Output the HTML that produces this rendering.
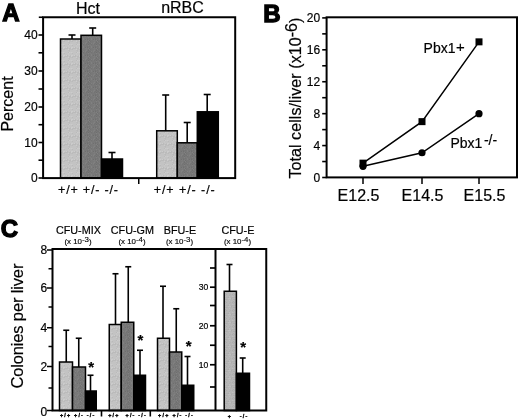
<!DOCTYPE html>
<html lang="en">
<head>
<meta charset="utf-8">
<title>Figure</title>
<style>
html,body{margin:0;padding:0;background:#fff;}
body{width:520px;height:419px;overflow:hidden;}
svg{display:block;font-family:"Liberation Sans", Arial, Helvetica, sans-serif;fill:#000000;}
svg text:not([stroke-width]){stroke:#000;stroke-width:0.2px;}
</style>
</head>
<body>
<svg width="520" height="419" viewBox="0 0 520 419">
<rect x="0" y="0" width="520" height="419" fill="#ffffff" stroke="none"/>
<defs>
<pattern id="pl" width="8" height="8" patternUnits="userSpaceOnUse">
<rect width="8" height="8" fill="#c3c3c3"/>
<rect x="0" y="0" width="1" height="1" fill="#bebebe"/>
<rect x="1" y="0" width="1" height="1" fill="#bababa"/>
<rect x="2" y="0" width="1" height="1" fill="#bababa"/>
<rect x="3" y="0" width="1" height="1" fill="#bababa"/>
<rect x="5" y="0" width="1" height="1" fill="#bababa"/>
<rect x="6" y="0" width="1" height="1" fill="#bababa"/>
<rect x="7" y="0" width="1" height="1" fill="#cccccc"/>
<rect x="0" y="1" width="1" height="1" fill="#bababa"/>
<rect x="4" y="1" width="1" height="1" fill="#cccccc"/>
<rect x="5" y="1" width="1" height="1" fill="#bebebe"/>
<rect x="6" y="1" width="1" height="1" fill="#bebebe"/>
<rect x="7" y="1" width="1" height="1" fill="#bebebe"/>
<rect x="4" y="2" width="1" height="1" fill="#bebebe"/>
<rect x="5" y="2" width="1" height="1" fill="#bababa"/>
<rect x="5" y="3" width="1" height="1" fill="#bebebe"/>
<rect x="0" y="4" width="1" height="1" fill="#c7c7c7"/>
<rect x="4" y="4" width="1" height="1" fill="#bababa"/>
<rect x="5" y="4" width="1" height="1" fill="#cccccc"/>
<rect x="6" y="4" width="1" height="1" fill="#c7c7c7"/>
<rect x="7" y="4" width="1" height="1" fill="#cccccc"/>
<rect x="0" y="5" width="1" height="1" fill="#bababa"/>
<rect x="4" y="5" width="1" height="1" fill="#c7c7c7"/>
<rect x="4" y="6" width="1" height="1" fill="#c7c7c7"/>
<rect x="0" y="7" width="1" height="1" fill="#cccccc"/>
<rect x="2" y="7" width="1" height="1" fill="#cccccc"/>
<rect x="3" y="7" width="1" height="1" fill="#bababa"/>
<rect x="5" y="7" width="1" height="1" fill="#c7c7c7"/>
<rect x="6" y="7" width="1" height="1" fill="#bebebe"/>
<rect x="7" y="7" width="1" height="1" fill="#cccccc"/>
</pattern>
<pattern id="pm" width="8" height="8" patternUnits="userSpaceOnUse">
<rect width="8" height="8" fill="#b5b5b5"/>
<rect x="0" y="0" width="1" height="1" fill="#bebebe"/>
<rect x="1" y="0" width="1" height="1" fill="#b9b9b9"/>
<rect x="5" y="0" width="1" height="1" fill="#bebebe"/>
<rect x="0" y="1" width="1" height="1" fill="#b0b0b0"/>
<rect x="1" y="1" width="1" height="1" fill="#b0b0b0"/>
<rect x="2" y="1" width="1" height="1" fill="#b0b0b0"/>
<rect x="3" y="1" width="1" height="1" fill="#b0b0b0"/>
<rect x="4" y="1" width="1" height="1" fill="#acacac"/>
<rect x="5" y="1" width="1" height="1" fill="#b9b9b9"/>
<rect x="7" y="1" width="1" height="1" fill="#b0b0b0"/>
<rect x="4" y="2" width="1" height="1" fill="#bebebe"/>
<rect x="5" y="2" width="1" height="1" fill="#bebebe"/>
<rect x="6" y="2" width="1" height="1" fill="#bebebe"/>
<rect x="7" y="2" width="1" height="1" fill="#acacac"/>
<rect x="1" y="3" width="1" height="1" fill="#acacac"/>
<rect x="2" y="3" width="1" height="1" fill="#acacac"/>
<rect x="3" y="3" width="1" height="1" fill="#b0b0b0"/>
<rect x="7" y="3" width="1" height="1" fill="#b0b0b0"/>
<rect x="1" y="4" width="1" height="1" fill="#b9b9b9"/>
<rect x="5" y="4" width="1" height="1" fill="#bebebe"/>
<rect x="1" y="5" width="1" height="1" fill="#acacac"/>
<rect x="7" y="5" width="1" height="1" fill="#b9b9b9"/>
<rect x="0" y="6" width="1" height="1" fill="#acacac"/>
<rect x="2" y="6" width="1" height="1" fill="#acacac"/>
<rect x="4" y="6" width="1" height="1" fill="#b9b9b9"/>
<rect x="6" y="6" width="1" height="1" fill="#b0b0b0"/>
<rect x="1" y="7" width="1" height="1" fill="#b0b0b0"/>
<rect x="5" y="7" width="1" height="1" fill="#b0b0b0"/>
</pattern>
<pattern id="pd" width="8" height="8" patternUnits="userSpaceOnUse">
<rect width="8" height="8" fill="#787878"/>
<rect x="0" y="0" width="1" height="1" fill="#818181"/>
<rect x="1" y="0" width="1" height="1" fill="#6f6f6f"/>
<rect x="5" y="0" width="1" height="1" fill="#7c7c7c"/>
<rect x="6" y="0" width="1" height="1" fill="#7c7c7c"/>
<rect x="0" y="1" width="1" height="1" fill="#737373"/>
<rect x="1" y="1" width="1" height="1" fill="#818181"/>
<rect x="2" y="1" width="1" height="1" fill="#737373"/>
<rect x="6" y="1" width="1" height="1" fill="#7c7c7c"/>
<rect x="0" y="2" width="1" height="1" fill="#6f6f6f"/>
<rect x="5" y="2" width="1" height="1" fill="#7c7c7c"/>
<rect x="6" y="2" width="1" height="1" fill="#818181"/>
<rect x="1" y="3" width="1" height="1" fill="#737373"/>
<rect x="2" y="3" width="1" height="1" fill="#737373"/>
<rect x="3" y="3" width="1" height="1" fill="#818181"/>
<rect x="5" y="3" width="1" height="1" fill="#818181"/>
<rect x="7" y="3" width="1" height="1" fill="#737373"/>
<rect x="0" y="4" width="1" height="1" fill="#6f6f6f"/>
<rect x="3" y="4" width="1" height="1" fill="#737373"/>
<rect x="5" y="4" width="1" height="1" fill="#7c7c7c"/>
<rect x="6" y="4" width="1" height="1" fill="#737373"/>
<rect x="0" y="5" width="1" height="1" fill="#818181"/>
<rect x="2" y="5" width="1" height="1" fill="#7c7c7c"/>
<rect x="1" y="6" width="1" height="1" fill="#737373"/>
<rect x="3" y="6" width="1" height="1" fill="#818181"/>
<rect x="7" y="6" width="1" height="1" fill="#737373"/>
<rect x="3" y="7" width="1" height="1" fill="#818181"/>
<rect x="5" y="7" width="1" height="1" fill="#6f6f6f"/>
<rect x="6" y="7" width="1" height="1" fill="#7c7c7c"/>
<rect x="7" y="7" width="1" height="1" fill="#6f6f6f"/>
</pattern>
</defs>
<g opacity="0.999">
<text x="2.2" y="21" font-size="24" text-anchor="start" font-weight="bold" stroke="#000" stroke-width="1.3" stroke-linejoin="miter">A</text>
<text x="88" y="13.5" font-size="16" text-anchor="middle" font-weight="normal" >Hct</text>
<text x="182.5" y="13" font-size="16" text-anchor="middle" font-weight="normal" >nRBC</text>
<line x1="72" y1="35" x2="72" y2="39" stroke="#000000" stroke-width="1.6"/>
<line x1="68.5" y1="35" x2="75.5" y2="35" stroke="#000000" stroke-width="1.6"/>
<rect x="60.5" y="39" width="20.5" height="139.1" fill="url(#pl)" stroke="#000000" stroke-width="1.5"/>
<line x1="92.7" y1="28" x2="92.7" y2="35.3" stroke="#000000" stroke-width="1.6"/>
<line x1="89.2" y1="28" x2="96.2" y2="28" stroke="#000000" stroke-width="1.6"/>
<rect x="81" y="35.3" width="20.5" height="142.8" fill="url(#pd)" stroke="#000000" stroke-width="1.5"/>
<line x1="112" y1="152.5" x2="112" y2="159" stroke="#000000" stroke-width="1.6"/>
<line x1="108.5" y1="152.5" x2="115.5" y2="152.5" stroke="#000000" stroke-width="1.6"/>
<rect x="101.5" y="159" width="21.0" height="19.099999999999994" fill="#000000" stroke="#000000" stroke-width="1.5"/>
<line x1="165.7" y1="95" x2="165.7" y2="130.8" stroke="#000000" stroke-width="1.6"/>
<line x1="162.2" y1="95" x2="169.2" y2="95" stroke="#000000" stroke-width="1.6"/>
<rect x="156.7" y="130.8" width="20.600000000000023" height="47.29999999999998" fill="url(#pl)" stroke="#000000" stroke-width="1.5"/>
<line x1="187.2" y1="122.5" x2="187.2" y2="142.8" stroke="#000000" stroke-width="1.6"/>
<line x1="183.7" y1="122.5" x2="190.7" y2="122.5" stroke="#000000" stroke-width="1.6"/>
<rect x="177.3" y="142.8" width="20.0" height="35.29999999999998" fill="url(#pd)" stroke="#000000" stroke-width="1.5"/>
<line x1="207.2" y1="94.5" x2="207.2" y2="111.8" stroke="#000000" stroke-width="1.6"/>
<line x1="203.7" y1="94.5" x2="210.7" y2="94.5" stroke="#000000" stroke-width="1.6"/>
<rect x="197.3" y="111.8" width="21.0" height="66.3" fill="#000000" stroke="#000000" stroke-width="1.5"/>
<rect x="43.1" y="17.25" width="192.1" height="160.85" fill="none" stroke="#000000" stroke-width="2"/>
<line x1="38.5" y1="35" x2="43.1" y2="35" stroke="#000000" stroke-width="1.6"/>
<text x="37.7" y="39.3" font-size="12" text-anchor="end" font-weight="normal" >40</text>
<line x1="38.5" y1="71" x2="43.1" y2="71" stroke="#000000" stroke-width="1.6"/>
<text x="37.7" y="75.3" font-size="12" text-anchor="end" font-weight="normal" >30</text>
<line x1="38.5" y1="107" x2="43.1" y2="107" stroke="#000000" stroke-width="1.6"/>
<text x="37.7" y="111.3" font-size="12" text-anchor="end" font-weight="normal" >20</text>
<line x1="38.5" y1="142.5" x2="43.1" y2="142.5" stroke="#000000" stroke-width="1.6"/>
<text x="37.7" y="146.8" font-size="12" text-anchor="end" font-weight="normal" >10</text>
<line x1="38.5" y1="178" x2="43.1" y2="178" stroke="#000000" stroke-width="1.6"/>
<text x="37.7" y="182.3" font-size="12" text-anchor="end" font-weight="normal" >0</text>
<line x1="38.5" y1="52.8" x2="43.1" y2="52.8" stroke="#000000" stroke-width="1.6"/>
<line x1="38.5" y1="89" x2="43.1" y2="89" stroke="#000000" stroke-width="1.6"/>
<line x1="38.5" y1="124.7" x2="43.1" y2="124.7" stroke="#000000" stroke-width="1.6"/>
<line x1="38.5" y1="160.2" x2="43.1" y2="160.2" stroke="#000000" stroke-width="1.6"/>
<line x1="138.75" y1="178" x2="138.75" y2="184" stroke="#000000" stroke-width="1.5"/>
<line x1="38.8" y1="17.25" x2="43.1" y2="17.25" stroke="#000000" stroke-width="1.6"/>
<text x="58" y="194" font-size="12.5" text-anchor="start" font-weight="normal" textLength="60" lengthAdjust="spacing">+/+ +/- -/-</text>
<text x="153.75" y="194" font-size="12.5" text-anchor="start" font-weight="normal" textLength="61" lengthAdjust="spacing">+/+ +/- -/-</text>
<text x="0" y="0" font-size="16" text-anchor="middle" font-weight="normal" transform="translate(13.2,104) rotate(-90)">Percent</text>
<text x="263.2" y="21.8" font-size="24" text-anchor="start" font-weight="bold" stroke="#000" stroke-width="1.3" stroke-linejoin="miter">B</text>
<rect x="326.6" y="17.3" width="190.39999999999998" height="160.1" fill="none" stroke="#000000" stroke-width="2"/>
<line x1="322.2" y1="177.5" x2="326.6" y2="177.5" stroke="#000000" stroke-width="1.6"/>
<text x="320.2" y="181.8" font-size="12" text-anchor="end" font-weight="normal" >0</text>
<line x1="322.2" y1="145.57999999999998" x2="326.6" y2="145.57999999999998" stroke="#000000" stroke-width="1.6"/>
<text x="320.2" y="149.88" font-size="12" text-anchor="end" font-weight="normal" >4</text>
<line x1="322.2" y1="113.66" x2="326.6" y2="113.66" stroke="#000000" stroke-width="1.6"/>
<text x="320.2" y="117.96" font-size="12" text-anchor="end" font-weight="normal" >8</text>
<line x1="322.2" y1="81.74" x2="326.6" y2="81.74" stroke="#000000" stroke-width="1.6"/>
<text x="320.2" y="86.03999999999999" font-size="12" text-anchor="end" font-weight="normal" >12</text>
<line x1="322.2" y1="49.81999999999999" x2="326.6" y2="49.81999999999999" stroke="#000000" stroke-width="1.6"/>
<text x="320.2" y="54.11999999999999" font-size="12" text-anchor="end" font-weight="normal" >16</text>
<line x1="322.2" y1="17.899999999999977" x2="326.6" y2="17.899999999999977" stroke="#000000" stroke-width="1.6"/>
<text x="320.2" y="22.199999999999978" font-size="12" text-anchor="end" font-weight="normal" >20</text>
<line x1="322.2" y1="161.54" x2="326.6" y2="161.54" stroke="#000000" stroke-width="1.6"/>
<line x1="322.2" y1="129.62" x2="326.6" y2="129.62" stroke="#000000" stroke-width="1.6"/>
<line x1="322.2" y1="97.69999999999999" x2="326.6" y2="97.69999999999999" stroke="#000000" stroke-width="1.6"/>
<line x1="322.2" y1="65.78" x2="326.6" y2="65.78" stroke="#000000" stroke-width="1.6"/>
<line x1="322.2" y1="33.859999999999985" x2="326.6" y2="33.859999999999985" stroke="#000000" stroke-width="1.6"/>
<line x1="363" y1="178" x2="363" y2="184" stroke="#000000" stroke-width="1.5"/>
<text x="358.5" y="201.4" font-size="16" text-anchor="middle" font-weight="normal" >E12.5</text>
<line x1="422" y1="178" x2="422" y2="184" stroke="#000000" stroke-width="1.5"/>
<text x="422.5" y="201.4" font-size="16" text-anchor="middle" font-weight="normal" >E14.5</text>
<line x1="479" y1="178" x2="479" y2="184" stroke="#000000" stroke-width="1.5"/>
<text x="484.5" y="201.4" font-size="16" text-anchor="middle" font-weight="normal" >E15.5</text>
<polyline fill="none" stroke="#000000" stroke-width="1.5" points="363,163.136 422,121.64 479,41.84"/>
<polyline fill="none" stroke="#000000" stroke-width="1.5" points="363,166.328 422,152.762 479,113.66"/>
<rect x="359.5" y="159.636" width="7" height="7" fill="#000000"/>
<rect x="418.5" y="118.14" width="7" height="7" fill="#000000"/>
<rect x="475.5" y="38.34" width="7" height="7" fill="#000000"/>
<circle cx="363" cy="166.328" r="3.6" fill="#000000"/>
<circle cx="422" cy="152.762" r="3.6" fill="#000000"/>
<circle cx="479" cy="113.66" r="3.6" fill="#000000"/>
<text x="423.6" y="52.8" font-size="14">Pbx1<tspan dy="-1" dx="0.6" font-size="15">+</tspan></text>
<text x="450.4" y="147.8" font-size="14">Pbx1<tspan dy="-2.8" dx="1.6" font-size="14">-/-</tspan></text>
<text font-size="16" textLength="161" lengthAdjust="spacing" transform="translate(301,178.6) rotate(-90)">Total cells/liver (x10<tspan dy="-3.9">-6</tspan><tspan dy="3.9">)</tspan></text>
<text x="0.8" y="236.8" font-size="24" text-anchor="start" font-weight="bold" stroke="#000" stroke-width="1.3" stroke-linejoin="miter">C</text>
<text x="78.4" y="234.1" font-size="10.8" text-anchor="middle" font-weight="normal" >CFU-MIX</text>
<text x="78" y="244.2" font-size="7.9" text-anchor="middle" stroke="#000" stroke-width="0.15">(x 10<tspan dy="-1.8">-3</tspan><tspan dy="1.8">)</tspan></text>
<text x="132.4" y="234.1" font-size="10.8" text-anchor="middle" font-weight="normal" >CFU-GM</text>
<text x="132" y="244.2" font-size="7.9" text-anchor="middle" stroke="#000" stroke-width="0.15">(x 10<tspan dy="-1.8">-4</tspan><tspan dy="1.8">)</tspan></text>
<text x="179.9" y="234.1" font-size="10.8" text-anchor="middle" font-weight="normal" >BFU-E</text>
<text x="179.5" y="244.2" font-size="7.9" text-anchor="middle" stroke="#000" stroke-width="0.15">(x 10<tspan dy="-1.8">-3</tspan><tspan dy="1.8">)</tspan></text>
<text x="237.9" y="234.1" font-size="10.8" text-anchor="middle" font-weight="normal" >CFU-E</text>
<text x="237.5" y="244.2" font-size="7.9" text-anchor="middle" stroke="#000" stroke-width="0.15">(x 10<tspan dy="-1.8">-4</tspan><tspan dy="1.8">)</tspan></text>
<line x1="66.25" y1="330.25" x2="66.25" y2="362" stroke="#000000" stroke-width="1.6"/>
<line x1="63.25" y1="330.25" x2="69.25" y2="330.25" stroke="#000000" stroke-width="1.6"/>
<rect x="59.5" y="362" width="13.0" height="48.5" fill="url(#pl)" stroke="#000000" stroke-width="1.5"/>
<line x1="78.75" y1="338.25" x2="78.75" y2="367" stroke="#000000" stroke-width="1.6"/>
<line x1="75.75" y1="338.25" x2="81.75" y2="338.25" stroke="#000000" stroke-width="1.6"/>
<rect x="72.5" y="367" width="13.0" height="43.5" fill="url(#pd)" stroke="#000000" stroke-width="1.5"/>
<line x1="90.5" y1="375.25" x2="90.5" y2="391" stroke="#000000" stroke-width="1.6"/>
<line x1="87.5" y1="375.25" x2="93.5" y2="375.25" stroke="#000000" stroke-width="1.6"/>
<rect x="85.5" y="391" width="10.75" height="19.5" fill="#000000" stroke="#000000" stroke-width="1.5"/>
<line x1="115.5" y1="273.75" x2="115.5" y2="324.5" stroke="#000000" stroke-width="1.6"/>
<line x1="112.5" y1="273.75" x2="118.5" y2="273.75" stroke="#000000" stroke-width="1.6"/>
<rect x="109.25" y="324.5" width="12.0" height="86.0" fill="url(#pl)" stroke="#000000" stroke-width="1.5"/>
<line x1="128.25" y1="266.75" x2="128.25" y2="322.25" stroke="#000000" stroke-width="1.6"/>
<line x1="125.25" y1="266.75" x2="131.25" y2="266.75" stroke="#000000" stroke-width="1.6"/>
<rect x="121.25" y="322.25" width="12.5" height="88.25" fill="url(#pd)" stroke="#000000" stroke-width="1.5"/>
<line x1="140" y1="350.25" x2="140" y2="375.25" stroke="#000000" stroke-width="1.6"/>
<line x1="137" y1="350.25" x2="143" y2="350.25" stroke="#000000" stroke-width="1.6"/>
<rect x="133.75" y="375.25" width="11.75" height="35.25" fill="#000000" stroke="#000000" stroke-width="1.5"/>
<line x1="163" y1="286.25" x2="163" y2="338.25" stroke="#000000" stroke-width="1.6"/>
<line x1="160" y1="286.25" x2="166" y2="286.25" stroke="#000000" stroke-width="1.6"/>
<rect x="157.5" y="338.25" width="12.0" height="72.25" fill="url(#pl)" stroke="#000000" stroke-width="1.5"/>
<line x1="176.25" y1="308.75" x2="176.25" y2="352" stroke="#000000" stroke-width="1.6"/>
<line x1="173.25" y1="308.75" x2="179.25" y2="308.75" stroke="#000000" stroke-width="1.6"/>
<rect x="169.5" y="352" width="12.25" height="58.5" fill="url(#pd)" stroke="#000000" stroke-width="1.5"/>
<line x1="187.5" y1="356.5" x2="187.5" y2="385.25" stroke="#000000" stroke-width="1.6"/>
<line x1="184.5" y1="356.5" x2="190.5" y2="356.5" stroke="#000000" stroke-width="1.6"/>
<rect x="181.75" y="385.25" width="12.0" height="25.25" fill="#000000" stroke="#000000" stroke-width="1.5"/>
<line x1="229.5" y1="264.5" x2="229.5" y2="291.25" stroke="#000000" stroke-width="1.6"/>
<line x1="226.5" y1="264.5" x2="232.5" y2="264.5" stroke="#000000" stroke-width="1.6"/>
<rect x="224.2" y="291.25" width="12.200000000000017" height="119.25" fill="url(#pm)" stroke="#000000" stroke-width="1.5"/>
<line x1="242.7" y1="358" x2="242.7" y2="373.25" stroke="#000000" stroke-width="1.6"/>
<line x1="239.7" y1="358" x2="245.7" y2="358" stroke="#000000" stroke-width="1.6"/>
<rect x="236.4" y="373.25" width="13.099999999999994" height="37.25" fill="#000000" stroke="#000000" stroke-width="1.5"/>
<rect x="52.5" y="249" width="213.75" height="161.5" fill="none" stroke="#000000" stroke-width="2"/>
<line x1="215.5" y1="249" x2="215.5" y2="410.5" stroke="#000000" stroke-width="2"/>
<line x1="47" y1="250" x2="52.5" y2="250" stroke="#000000" stroke-width="1.5"/>
<text x="47.2" y="254.3" font-size="12" text-anchor="end" font-weight="normal" >8</text>
<line x1="47" y1="288" x2="52.5" y2="288" stroke="#000000" stroke-width="1.5"/>
<text x="47.2" y="292.3" font-size="12" text-anchor="end" font-weight="normal" >6</text>
<line x1="47" y1="327.75" x2="52.5" y2="327.75" stroke="#000000" stroke-width="1.5"/>
<text x="47.2" y="332.05" font-size="12" text-anchor="end" font-weight="normal" >4</text>
<line x1="47" y1="366.5" x2="52.5" y2="366.5" stroke="#000000" stroke-width="1.5"/>
<text x="47.2" y="370.8" font-size="12" text-anchor="end" font-weight="normal" >2</text>
<line x1="47" y1="410.5" x2="52.5" y2="410.5" stroke="#000000" stroke-width="1.5"/>
<text x="47.2" y="415.8" font-size="12" text-anchor="end" font-weight="normal" >0</text>
<line x1="48.5" y1="268.75" x2="52.5" y2="268.75" stroke="#000000" stroke-width="1.5"/>
<line x1="48.5" y1="307" x2="52.5" y2="307" stroke="#000000" stroke-width="1.5"/>
<line x1="48.5" y1="346.5" x2="52.5" y2="346.5" stroke="#000000" stroke-width="1.5"/>
<line x1="48.5" y1="388" x2="52.5" y2="388" stroke="#000000" stroke-width="1.5"/>
<line x1="210" y1="287.2" x2="215.5" y2="287.2" stroke="#000000" stroke-width="1.7"/>
<text x="208.3" y="290.2" font-size="8.6" text-anchor="end" font-weight="normal" >30</text>
<line x1="210" y1="325.75" x2="215.5" y2="325.75" stroke="#000000" stroke-width="1.7"/>
<text x="208.3" y="328.75" font-size="8.6" text-anchor="end" font-weight="normal" >20</text>
<line x1="210" y1="364.75" x2="215.5" y2="364.75" stroke="#000000" stroke-width="1.7"/>
<text x="208.3" y="367.75" font-size="8.6" text-anchor="end" font-weight="normal" >10</text>
<line x1="210" y1="268" x2="215.5" y2="268" stroke="#000000" stroke-width="1.7"/>
<line x1="210" y1="305.5" x2="215.5" y2="305.5" stroke="#000000" stroke-width="1.7"/>
<line x1="210" y1="345.25" x2="215.5" y2="345.25" stroke="#000000" stroke-width="1.7"/>
<line x1="210" y1="387" x2="215.5" y2="387" stroke="#000000" stroke-width="1.7"/>
<line x1="101.5" y1="410.5" x2="101.5" y2="416.5" stroke="#000000" stroke-width="1.6"/>
<line x1="150.3" y1="410.5" x2="150.3" y2="416.5" stroke="#000000" stroke-width="1.6"/>
<text x="91.25" y="372.15" font-size="15" text-anchor="middle" font-weight="bold" >*</text>
<text x="140.5" y="345.15" font-size="15" text-anchor="middle" font-weight="bold" >*</text>
<text x="188.75" y="350.9" font-size="15" text-anchor="middle" font-weight="bold" >*</text>
<text x="243.25" y="352.15" font-size="15" text-anchor="middle" font-weight="bold" >*</text>
<text x="65.6" y="417.3" font-size="5.4" text-anchor="middle" font-weight="bold" letter-spacing="1.2" stroke="#000" stroke-width="0.35">+/+</text>
<text x="79.1" y="417.3" font-size="5.4" text-anchor="middle" font-weight="bold" letter-spacing="1.2" stroke="#000" stroke-width="0.35">+/-</text>
<text x="91.1" y="417.3" font-size="5.4" text-anchor="middle" font-weight="bold" letter-spacing="1.2" stroke="#000" stroke-width="0.35">-/-</text>
<text x="113.89999999999999" y="417.3" font-size="5.4" text-anchor="middle" font-weight="bold" letter-spacing="1.2" stroke="#000" stroke-width="0.35">+/+</text>
<text x="130.6" y="417.3" font-size="5.4" text-anchor="middle" font-weight="bold" letter-spacing="1.2" stroke="#000" stroke-width="0.35">+/-</text>
<text x="142.6" y="417.3" font-size="5.4" text-anchor="middle" font-weight="bold" letter-spacing="1.2" stroke="#000" stroke-width="0.35">-/-</text>
<text x="163.79999999999998" y="417.3" font-size="5.4" text-anchor="middle" font-weight="bold" letter-spacing="1.2" stroke="#000" stroke-width="0.35">+/+</text>
<text x="177.6" y="417.3" font-size="5.4" text-anchor="middle" font-weight="bold" letter-spacing="1.2" stroke="#000" stroke-width="0.35">+/-</text>
<text x="189.6" y="417.3" font-size="5.4" text-anchor="middle" font-weight="bold" letter-spacing="1.2" stroke="#000" stroke-width="0.35">-/-</text>
<text x="229.9" y="417.8" font-size="5.4" text-anchor="middle" font-weight="bold" letter-spacing="1.2" stroke="#000" stroke-width="0.35">+</text>
<text x="244.1" y="417.8" font-size="5.4" text-anchor="middle" font-weight="bold" letter-spacing="1.2" stroke="#000" stroke-width="0.35">-/-</text>
<text x="0" y="0" font-size="16.5" text-anchor="start" font-weight="normal" textLength="125" lengthAdjust="spacing" transform="translate(23.3,388.6) rotate(-90)">Colonies per liver</text>
</g>
</svg>
</body>
</html>
